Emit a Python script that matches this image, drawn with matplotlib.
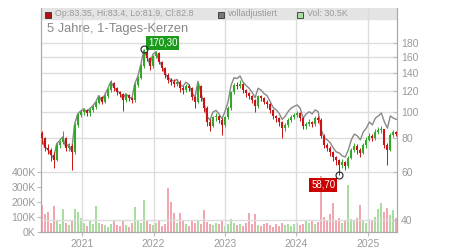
import matplotlib
matplotlib.use('Agg')
import matplotlib.pyplot as plt
import matplotlib.ticker as mticker
from matplotlib.patches import Rectangle
import numpy as np
import pandas as pd

plt.rcParams['font.family'] = ['Liberation Sans', 'DejaVu Sans']

# approx. two-weekly candles
close = [80, 73.8, 72.5, 69.5, 66.6, 75.7, 77.5, 80.4, 73.8, 75,
         71.3, 89.7, 97.6, 100.3, 101.9, 99.2, 102, 104.5, 108.1, 113.8,
         109.2, 114.7, 120.8, 128.2, 122.6, 118.7, 116.7, 110.9, 115.7, 112.8,
         110.9, 126, 133.9, 148, 167, 158.3, 148, 161.3, 164.9, 153.1,
         145.5, 137.2, 131.5, 129.3, 127.1, 129.3, 122.6, 120.8, 125, 122.6,
         113.8, 109.2, 125, 112.8, 103.4, 92, 89, 95.6, 96.8, 93.6,
         89.7, 95.6, 103.4, 118.7, 126, 125, 127.1, 120.8, 117.7, 114.7,
         110.9, 105.4, 114.7, 112.8, 109.2, 107.2, 101.9, 96.8, 95, 92,
         87.3, 89.7, 93.6, 96, 97.6, 99.2, 95, 89, 90.5, 92,
         90.5, 95, 93.6, 81.7, 75.7, 73.8, 71.3, 68.3, 66.6, 63.8,
         65.5, 63.3, 67.8, 72.5, 75, 72.5, 70.7, 75.7, 79, 81.7,
         80.4, 84.5, 86, 86.5, 75.7, 72.5, 82.4, 84.5, 83]
high = [85, 81, 76, 74, 71, 77, 79, 85, 81, 77,
        76, 91, 99, 102, 104, 103, 104, 106, 110, 116,
        115, 117, 123, 131, 129, 124, 120, 118, 117, 117,
        114, 128, 136, 151, 170.3, 168, 160, 163, 168, 166,
        155, 147, 139, 134, 132, 132, 131, 125, 127, 127,
        124, 115, 128, 126, 114, 105, 94, 97, 99, 98,
        95, 97, 105, 120, 128, 129, 131, 128, 122, 119,
        116, 112, 116, 116, 114, 111, 108, 103, 98, 96,
        93, 91, 95, 98, 99, 101, 100, 96, 92, 94,
        93, 97, 97, 95, 83, 77, 75, 72, 69, 67,
        67, 66, 69, 74, 77, 76, 74, 77, 81, 84,
        83, 87, 88, 89, 87, 77, 84, 86, 85]
low = [76, 72, 70, 66, 62, 66, 74, 76, 72, 72,
       61, 70, 88, 96, 98, 97, 97, 100, 103, 107,
       107, 108, 113, 119, 120, 116, 114, 101, 109, 110,
       108, 109, 124, 132, 146, 155, 143, 146, 159, 150,
       142, 134, 128, 126, 124, 125, 119, 117, 119, 120,
       111, 104, 108, 110, 100, 89, 85, 88, 93, 91,
       82, 88, 94, 102, 117, 122, 123, 118, 114, 112,
       108, 100, 104, 110, 107, 104, 99, 94, 92, 89,
       80, 85, 88, 92, 94, 96, 93, 87, 87, 89,
       88, 89, 91, 80, 74, 72, 69, 66, 64, 58.7,
       62, 61, 62, 67, 71, 70, 68, 70, 74, 78,
       78, 79, 83, 84, 74, 64, 72, 81, 81.9]
adjusted = [80.5, 74.5, 73, 70, 67.5, 76.5, 78.5, 81, 74.5, 76,
            72, 90.5, 98.5, 101, 103, 100, 103, 105.5, 109, 115,
            110, 116, 122, 129.5, 124, 120, 118, 112, 117, 114,
            112, 127.5, 135.5, 150, 169, 160.5, 150, 163.5, 167, 155.5,
            148, 139.5, 134, 132, 130, 132,
            126, 124.5, 129, 126.5, 118, 113.5, 130, 117.5, 108, 96.5,
            93.5, 100, 101.5, 98.5, 94.5, 100.5, 109,
            125.5, 134, 133, 136, 129, 125.5, 122.5, 118.5, 113, 122.5,
            120.5, 117, 115, 109.5, 104, 102, 99, 94, 96.5, 100.5, 103.5, 105,
            106.3, 103.4, 95, 98.5, 100.3, 98.5, 101.9, 100.3,
            86, 80.4, 79, 77, 73.8, 71.3, 70.7, 68.9, 68.3, 72.5,
            79, 83, 81.7, 79, 84.5, 87.3, 92, 89.7, 95, 96.8,
            99.2, 92, 87.3, 96.8, 95, 94]
volume_k = [180, 120, 135, 60, 170, 70, 55, 150, 60, 45,
            75, 150, 130, 90, 60, 40, 80, 55, 170, 60,
            50, 45, 35, 55, 75, 45, 40, 70, 45, 35,
            60, 165, 80, 60, 210, 75, 55, 45, 60, 70,
            40, 55, 290, 200, 125, 60, 125, 70, 50, 40,
            80, 60, 75, 50, 145, 65, 55, 45, 60, 50,
            70, 40, 55, 85, 60, 45, 55, 40, 60, 125,
            50, 120, 45, 40, 55, 60, 45, 35, 50, 40,
            60, 45, 55, 40, 50, 60, 45, 55, 70, 60,
            80, 50, 65, 370, 100, 80, 120, 190, 75, 90,
            60, 70, 310, 85, 70, 95, 180, 75, 60, 85,
            70, 100, 150, 190, 130, 160, 110, 145, 90]

year_ticks = ['2021', '2022', '2023', '2024', '2025']
price_ticks = [40, 60, 80, 100, 120, 140, 160, 180]
vol_ticks = [0, 100000, 200000, 300000, 400000]
vol_labels = ['0K', '100K', '200K', '300K', '400K']

dates = pd.date_range('2020-06-08', '2025-05-26', periods=len(close))
opens = [84] + close[:-1]
up = np.array(close) >= np.array(opens)

c_up, c_dn = '#33a828', '#c81414'
candle_col = np.where(up, c_up, c_dn)
vol_col = np.where(up, '#a8dca0', '#f2a6b0')
txt = '#999999'

fig = plt.figure(figsize=(4.5, 2.5), dpi=100)
ax = fig.add_axes([41/450, 18/250, 356/450, 224/250])
ax2 = ax.twinx()

# volume
ax.bar(dates, np.array(volume_k) * 1000, width=10, color=vol_col, zorder=1)
ax.set_ylim(0, 1493000)
ax.set_yticks(vol_ticks)
ax.set_yticklabels(vol_labels)
ax.set_xlim(pd.Timestamp('2020-06-05'), pd.Timestamp('2025-05-29'))
ax.set_xticks([pd.Timestamp(y + '-01-01') for y in year_ticks])
ax.set_xticklabels(year_ticks)
ax.grid(axis='x', color='#dddddd', lw=1)
ax.add_patch(Rectangle((0, 213/224), 1, 11/224, transform=ax.transAxes,
                       color='#e4e4e4', zorder=0.5))

# price
ax2.set_yscale('log')
ax2.set_ylim(36.1, 242.3)
ax2.yaxis.set_major_locator(mticker.FixedLocator(price_ticks))
ax2.yaxis.set_major_formatter(mticker.FixedFormatter([str(p) for p in price_ticks]))
ax2.yaxis.set_minor_locator(mticker.NullLocator())
ax2.grid(axis='y', color='#dddddd', lw=1)
ax2.plot(dates, adjusted, color='#888888', lw=1, zorder=2)
ax2.vlines(dates, low, high, colors=candle_col, lw=0.7, zorder=3)
ax2.vlines(dates, np.minimum(opens, close), np.maximum(opens, close),
           colors=candle_col, lw=1.5, zorder=3)

ih, il = int(np.argmax(high)), int(np.argmin(low))
ax2.plot([dates[ih], dates[il]], [high[ih], low[il]], 'o', ms=5, mfc='none',
         mec='#222222', mew=0.8, zorder=5)
ax2.annotate('170,30', (dates[ih], high[ih]), xytext=(13.5, 4.8),
             textcoords='offset points', ha='center', va='center',
             color='white', fontsize=7,
             bbox=dict(boxstyle='square,pad=0.2', fc='#1c9a1c', ec='none'))
ax2.annotate('58,70', (dates[il], low[il]), xytext=(-11.5, -7.2),
             textcoords='offset points', ha='center', va='center',
             color='white', fontsize=7,
             bbox=dict(boxstyle='square,pad=0.2', fc='#cc0000', ec='none'))

for a in (ax, ax2):
    for s in a.spines.values():
        s.set_color('#aaaaaa')
    a.spines['top'].set_visible(False)
    a.tick_params(colors='#bbbbbb', labelcolor=txt, labelsize=7.5, length=3, width=0.8)
ax.tick_params(axis='x', pad=2)
ax.tick_params(axis='y', pad=1)
ax2.tick_params(axis='y', direction='in', pad=3)

# header
fig.text(47/450, 1 - 29/250, '5 Jahre, 1-Tages-Kerzen', color='#888888',
         fontsize=9.3, va='center', ha='left')
for x0, col, label in [(45, '#b01010', 'Op:83.35, Hi:83.4, Lo:81.9, Cl:82.8'),
                       (218, '#777777', 'volladjustiert'),
                       (297, '#a8dca0', 'Vol: 30.5K')]:
    fig.patches.append(Rectangle((x0/450, 1 - 17.5/250), 6/450, 6/250,
                                 transform=fig.transFigure, fc=col,
                                 ec='#333333', lw=0.6))
    fig.text((x0 + 10)/450, 1 - 14/250, label, color=txt, fontsize=6.4,
             va='center', ha='left')

fig.savefig('out.png', dpi=100)
